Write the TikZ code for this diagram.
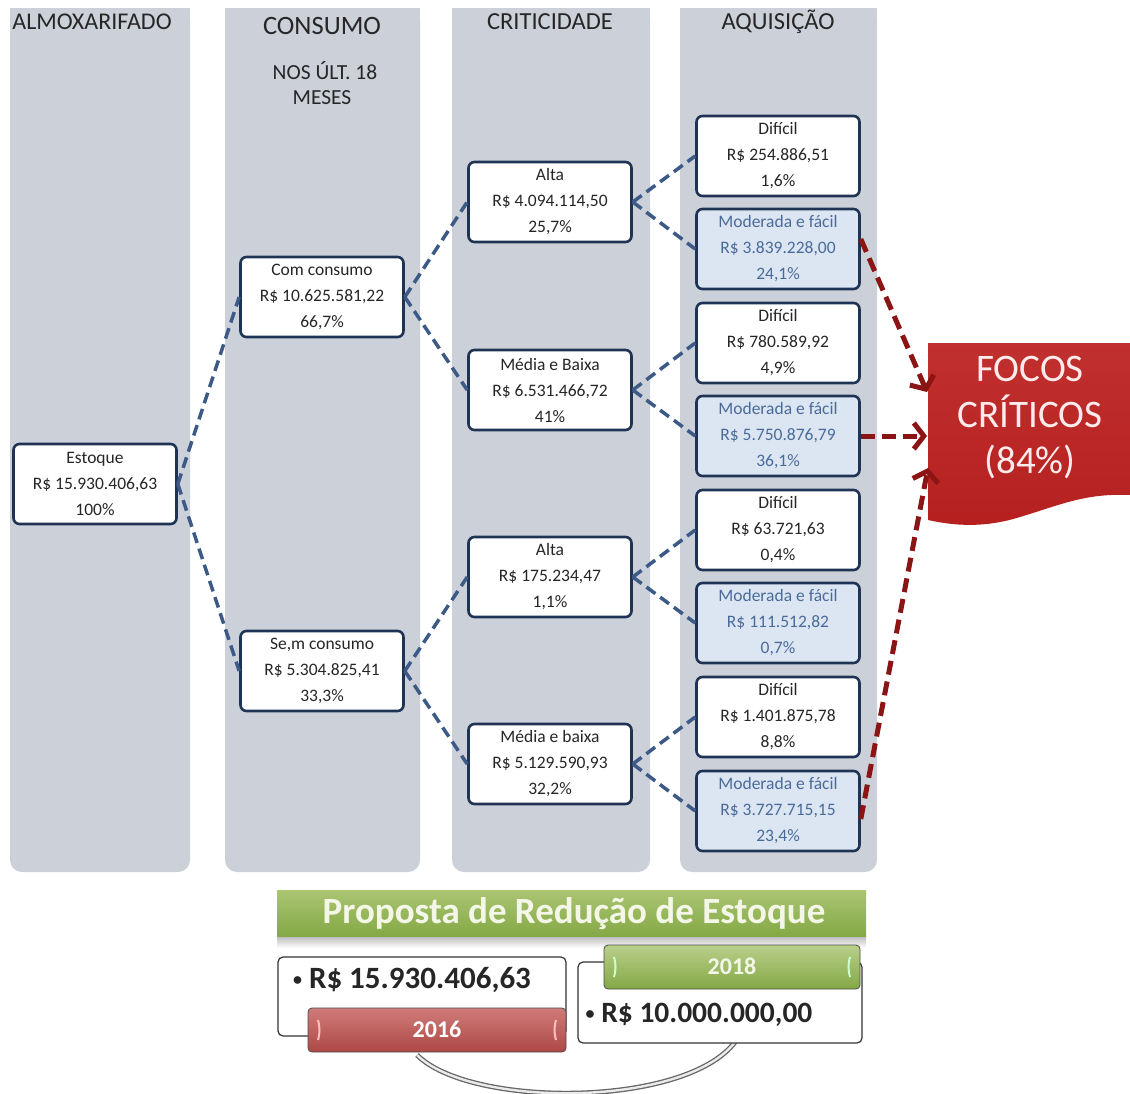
\documentclass[tikz,border=0pt]{standalone}
\usepackage{fontspec}
\setmainfont{Carlito}
\usetikzlibrary{arrows.meta}
\definecolor{panelgray}{HTML}{CCD1D9}
\definecolor{navy}{HTML}{1F3454}
\definecolor{connblue}{HTML}{3D5A87}
\definecolor{lightblue}{HTML}{DCE6F2}
\definecolor{bluetext}{HTML}{4A6B9A}
\definecolor{darkred}{HTML}{8B1414}
\definecolor{focred}{HTML}{C0302E}
\definecolor{focreddark}{HTML}{B5201F}
\definecolor{bgreen}{HTML}{9BBB59}
\definecolor{bgreendark}{HTML}{84A845}
\definecolor{tabred}{HTML}{C0504D}
\definecolor{lighttxt}{HTML}{F4F7E8}
\newcommand{\smbul}{{\fontsize{18}{20}\selectfont\raisebox{0.15em}{•}}}
\begin{document}
\begin{tikzpicture}[x=1pt,y=-1pt,
  hdr/.style={font=\fontsize{24.5}{28}\selectfont, text=black!85, inner sep=0pt},
  sub/.style={font=\fontsize{21.5}{24}\selectfont, text=black!85, inner sep=0pt},
  boxw/.style={draw=navy, line width=2.6pt, rounded corners=6pt, fill=white,
    minimum width=163pt, minimum height=80pt, align=center, inner sep=0pt,
    font=\fontsize{17.5}{26}\selectfont, text=black!85},
  boxb/.style={boxw, fill=lightblue, text=bluetext},
  conn/.style={draw=connblue, line width=3.5pt, dash pattern=on 11pt off 6pt},
  crit/.style={draw=darkred, line width=5pt, dash pattern=on 14pt off 7pt,
    -{Straight Barb[length=10pt,width=26pt,line width=5pt]}},
  focfont/.style={font=\fontsize{39}{46}\selectfont, text=white!92!red, align=center, inner sep=0pt},
  big/.style={font=\bfseries\fontsize{31}{34}\selectfont, text=black!85, inner sep=0pt},
  tabtxt/.style={font=\bfseries\fontsize{24}{26}\selectfont, text=white, inner sep=0pt}
]
\useasboundingbox (0,0) rectangle (1130,1093);
\clip (0,0) rectangle (1130,1093);
\fill[white] (0,0) rectangle (1130,1093);

% panels
\foreach \xa/\xb in {10/190, 225/420, 452/650, 680/877}{
  \fill[panelgray, rounded corners=12pt] (\xa,8) rectangle (\xb,872);
  \fill[panelgray] (\xa,8) rectangle (\xb,100);
}

% headers
\node[hdr, font=\fontsize{24}{28}\selectfont] (h1) at (92,22) {ALMOXARIFADO};
\node[hdr, font=\fontsize{26.5}{30}\selectfont] (h2) at (322,26) {CONSUMO};
\node[hdr] (h3) at (550,22) {CRITICIDADE};
\node[hdr] (h4) at (778,22) {AQUISIÇÃO};
\node[sub] (s1) at (325,71) {NOS ÚLT. 18};
\node[sub] (s2) at (322,98) {MESES};

% boxes
\node[boxw] (est) at (95,484) {Estoque\\R\$ 15.930.406,63\\100\%};
\node[boxw] (cc) at (322,297) {Com consumo\\R\$ 10.625.581,22\\66,7\%};
\node[boxw] (sc) at (322,671) {Se,m consumo\\R\$ 5.304.825,41\\33,3\%};
\node[boxw] (a1) at (550,202) {Alta\\R\$ 4.094.114,50\\25,7\%};
\node[boxw] (mb1) at (550,390) {Média e Baixa\\R\$ 6.531.466,72\\41\%};
\node[boxw] (a2) at (550,577) {Alta\\R\$ 175.234,47\\1,1\%};
\node[boxw] (mb2) at (550,764) {Média e baixa\\R\$ 5.129.590,93\\32,2\%};
\node[boxw] (d1) at (778,156) {Difícil\\R\$ 254.886,51\\1,6\%};
\node[boxb] (m1) at (778,249) {Moderada e fácil\\R\$ 3.839.228,00\\24,1\%};
\node[boxw] (d2) at (778,343) {Difícil\\R\$ 780.589,92\\4,9\%};
\node[boxb] (m2) at (778,436) {Moderada e fácil\\R\$ 5.750.876,79\\36,1\%};
\node[boxw] (d3) at (778,530) {Difícil\\R\$ 63.721,63\\0,4\%};
\node[boxb] (m3) at (778,623) {Moderada e fácil\\R\$ 111.512,82\\0,7\%};
\node[boxw] (d4) at (778,717) {Difícil\\R\$ 1.401.875,78\\8,8\%};
\node[boxb] (m4) at (778,811) {Moderada e fácil\\R\$ 3.727.715,15\\23,4\%};

% blue dashed connectors
\draw[conn] (est.east) -- (cc.west);
\draw[conn] (est.east) -- (sc.west);
\draw[conn] (cc.east) -- (a1.west);
\draw[conn] (cc.east) -- (mb1.west);
\draw[conn] (sc.east) -- (a2.west);
\draw[conn] (sc.east) -- (mb2.west);
\draw[conn] (a1.east) -- (d1.west);
\draw[conn] (a1.east) -- (m1.west);
\draw[conn] (mb1.east) -- (d2.west);
\draw[conn] (mb1.east) -- (m2.west);
\draw[conn] (a2.east) -- (d3.west);
\draw[conn] (a2.east) -- (m3.west);
\draw[conn] (mb2.east) -- (d4.west);
\draw[conn] (mb2.east) -- (m4.west);

% focus shape
\shade[top color=focred, bottom color=focreddark]
  (928,343) -- (1130,343) -- (1130,495)
  .. controls (1085,493) and (1060,505) .. (1020,517)
  .. controls (985,528) and (955,526) .. (928,520) -- cycle;
\node[focfont] (foc) at (1030,418) {FOCOS\\CRÍTICOS\\(84\%)};
\coordinate (t1) at (927,392);
\coordinate (t2) at (927,436);
\coordinate (t3) at (928,468);

% red arrows
\draw[crit] ([yshift=10pt]m1.east) -- (t1);
\draw[crit] (m2.east) -- (t2);
\draw[crit] ([yshift=-8pt]m4.east) -- (t3);

% bottom part
\shade[top color=bgreen!85!white, bottom color=bgreendark] (277,890) rectangle (866,937);
\shade[top color=black!25, bottom color=white] (277,937) rectangle (866,948);
\node[font=\bfseries\fontsize{37}{40}\selectfont, text=lighttxt, inner sep=0pt] (title) at (574,914) {Proposta de Redução de Estoque};

\coordinate (arcA) at (417,1055);
\coordinate (arcB) at (735,1042);
\draw[draw=black!60, double=black!8, double distance=2.4pt, line width=1.3pt]
  (arcA) .. controls (470,1108) and (685,1108) .. (arcB);

\node[draw=black!80, line width=1.2pt, rounded corners=5pt, fill=white,
  minimum width=288pt, minimum height=79pt] (lbox) at (422,996.5) {};
\node[draw=black!80, line width=1.2pt, rounded corners=5pt, fill=white,
  minimum width=284pt, minimum height=81pt] (rbox) at (720,1002.5) {};
\node[big] (ltxt) at (412,980) {\smbul\ R\$ 15.930.406,63};
\node[big, font=\bfseries\fontsize{29.5}{32}\selectfont] (rtxt) at (699,1015) {\smbul\ R\$ 10.000.000,00};

\shade[top color=bgreen!70!white, bottom color=bgreendark, rounded corners=4pt, draw=black!70, line width=0.8pt]
  (604,945) rectangle (860,989);
\node[tabtxt, text=lighttxt] (t2018) at (732,966) {2018};
\draw[white!80!green, line width=2pt] (614,957) to[bend left=15] (614,977);
\draw[white!80!green, line width=2pt] (850,957) to[bend right=15] (850,977);

\shade[top color=tabred!75!white, bottom color=tabred!90!black, rounded corners=4pt, draw=black!70, line width=0.8pt]
  (308,1008) rectangle (566,1052);
\node[tabtxt] (t2016) at (437,1029) {2016};
\draw[white!75!red, line width=2pt] (318,1020) to[bend left=15] (318,1040);
\draw[white!75!red, line width=2pt] (556,1020) to[bend right=15] (556,1040);
\end{tikzpicture}
\end{document}
